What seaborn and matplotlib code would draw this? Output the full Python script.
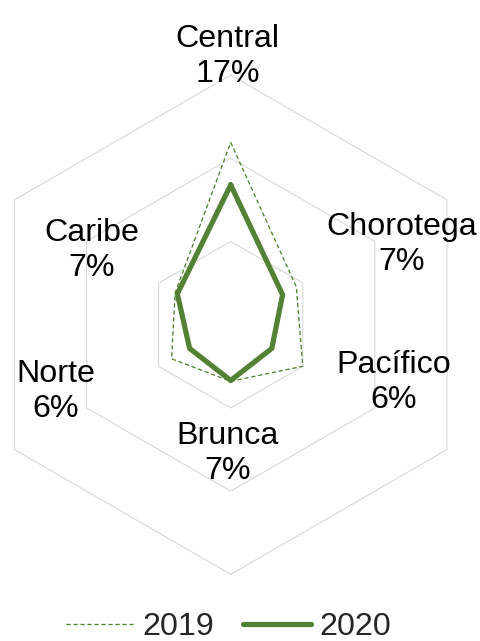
import numpy as np
import pandas as pd
import matplotlib
matplotlib.use("Agg")
import matplotlib.pyplot as plt
import seaborn as sns

# Regional share, 2019 vs 2020
regions = ["Central", "Chorotega", "Pacífico", "Brunca", "Norte", "Caribe"]
share_2019 = [0.219, 0.091, 0.100, 0.068, 0.082, 0.077]
share_2020 = [0.168, 0.072, 0.057, 0.067, 0.057, 0.074]
ring_levels = [0.1, 0.2, 0.3]
series_names = ["2019", "2020"]

sns.set_theme(style="white")
plt.rcParams["font.family"] = ["Liberation Sans", "DejaVu Sans"]

W, H = 480, 641
fig = plt.figure(figsize=(W / 100, H / 100), dpi=100)
fig.patch.set_facecolor("white")

# square polar panel centred on the hexagon
cx, cy, R = 230.7, 324.7, 249.7
ax = fig.add_axes([(cx - R) / W, (H - cy - R) / H, 2 * R / W, 2 * R / H],
                  projection="polar")
ax.set_theta_zero_location("N")
ax.set_theta_direction(-1)
ax.set_ylim(0, ring_levels[-1])
ax.grid(False)
ax.spines["polar"].set_visible(False)
ax.patch.set_alpha(0)

n = len(regions)
theta = np.linspace(0, 2 * np.pi, n, endpoint=False)
theta_closed = np.append(theta, 2 * np.pi)

# hexagonal grid rings
for lvl in ring_levels:
    ax.plot(theta_closed, [lvl] * (n + 1), color="#d9d9d9", lw=0.8,
            clip_on=False, zorder=1)

green = "#548235"

df19 = pd.DataFrame({"theta": theta_closed, "share": share_2019 + share_2019[:1]})
df20 = pd.DataFrame({"theta": theta_closed, "share": share_2020 + share_2020[:1]})

sns.lineplot(data=df19, x="theta", y="share", sort=False, estimator=None,
             ax=ax, color=green, linewidth=0.95, legend=False,
             label=series_names[0], clip_on=False, zorder=3)
ax.lines[-1].set_linestyle((0, (3.2, 2.1)))

sns.lineplot(data=df20, x="theta", y="share", sort=False, estimator=None,
             ax=ax, color=green, linewidth=3.75, legend=False,
             label=series_names[1], clip_on=False, zorder=4,
             solid_joinstyle="round", solid_capstyle="round")
ax.set_xlabel("")
ax.set_ylabel("")
ax.set_xticks([])
ax.set_yticks([])

# data labels: region name and 2020 share
label_px = {
    "Central": (227.8, 46.7),
    "Chorotega": (402.0, 235.0),
    "Pacífico": (394.0, 373.3),
    "Brunca": (227.5, 444.0),
    "Norte": (56.0, 381.7),
    "Caribe": (91.5, 241.0),
}
line_gap = 35.0
fs = 23.2
for name, val in zip(regions, share_2020):
    x, y = label_px[name]
    fig.text(x / W, 1 - y / H, name, ha="center", va="baseline",
             fontsize=fs, color="black")
    fig.text(x / W, 1 - (y + line_gap) / H, f"{val:.0%}", ha="center",
             va="baseline", fontsize=fs, color="black")

handles = ax.lines[-2:]
leg = fig.legend(handles, series_names, loc="lower center",
                 bbox_to_anchor=(228.5 / W, 1 - 642.0 / H), ncol=2,
                 frameon=False, fontsize=fs, handlelength=2.1,
                 handletextpad=0.28, columnspacing=0.9, borderpad=0,
                 borderaxespad=0)

fig.savefig("out.png", dpi=100)
